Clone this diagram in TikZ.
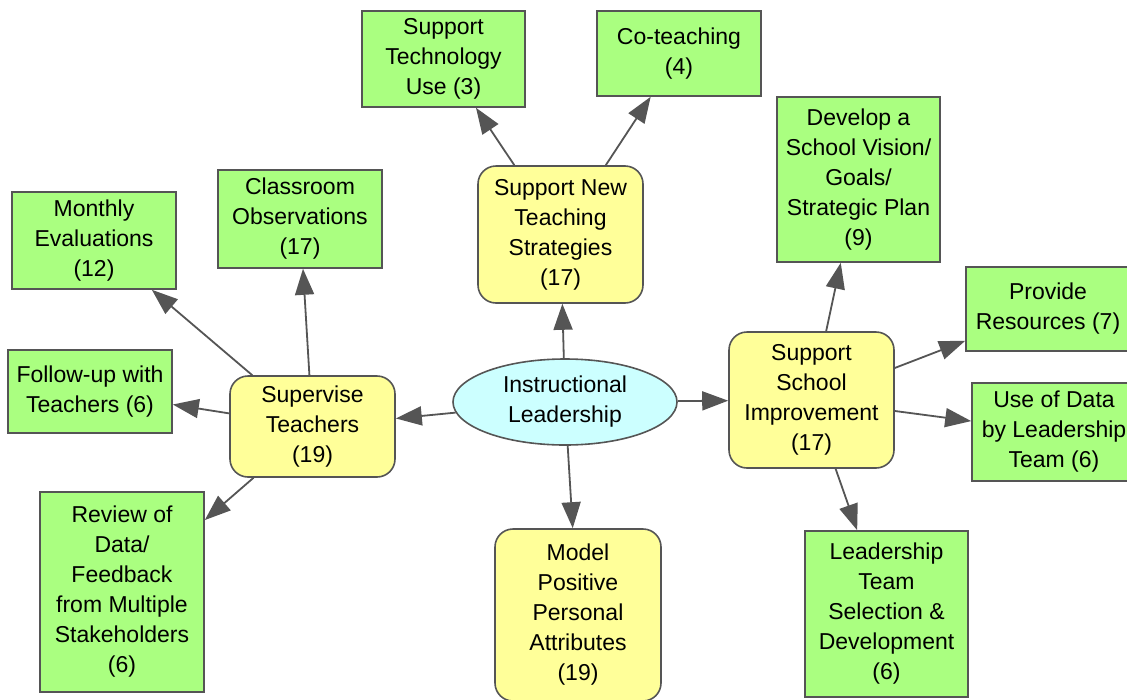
\documentclass[tikz,border=0pt]{standalone}
\usepackage{fontspec}
\setmainfont{Liberation Sans}
\usetikzlibrary{arrows.meta,shapes.geometric}
\definecolor{leafgreen}{HTML}{AAFF80}
\definecolor{midyellow}{HTML}{FFFF99}
\definecolor{rootcyan}{HTML}{CCFFFF}
\definecolor{edgegray}{HTML}{555555}
\begin{document}
\begin{tikzpicture}[x=1pt,y=-1pt,
  base/.style={draw=edgegray, line width=1.6pt, align=center, font=\fontsize{23}{30}\selectfont, inner sep=0pt},
  leaf/.style={base, rectangle, fill=leafgreen},
  mid/.style={base, rectangle, rounded corners=18pt, fill=midyellow},
  root/.style={base, ellipse, fill=rootcyan},
  link/.style={draw=edgegray, line width=1.8pt, -{Triangle[length=26pt,width=19pt]}}]
\useasboundingbox (0,0) rectangle (1127,699);
\clip (0,0) rectangle (1127,699);
\fill[white] (0,0) rectangle (1127,699);
% central node
\node[root, minimum width=224pt, minimum height=86pt] (root) at (565,402) {Instructional\\Leadership};
% middle level
\node[mid, minimum width=165pt, minimum height=137pt] (snts) at (560.5,234.5) {Support New\\Teaching\\Strategies\\(17)};
\node[mid, minimum width=165pt, minimum height=101pt] (sup) at (312.5,426.5) {Supervise\\Teachers\\(19)};
\node[mid, minimum width=165pt, minimum height=136pt] (ssi) at (811.5,400) {Support\\School\\Improvement\\(17)};
\node[mid, minimum width=166pt, minimum height=172pt] (model) at (578,615) {Model\\Positive\\Personal\\Attributes\\(19)};
% leaves
\node[leaf, minimum width=163pt, minimum height=96pt] (tech) at (443.5,59) {Support\\Technology\\Use (3)};
\node[leaf, minimum width=164pt, minimum height=85pt] (cot) at (679,53.5) {Co-teaching\\(4)};
\node[leaf, minimum width=163pt, minimum height=165pt] (vision) at (858.5,179.5) {Develop a\\School Vision/\\Goals/\\Strategic Plan\\(9)};
\node[leaf, minimum width=164pt, minimum height=84pt] (res) at (1048,309) {Provide\\Resources (7)};
\node[leaf, minimum width=164pt, minimum height=98pt] (data) at (1054,432) {Use of Data\\by Leadership\\Team (6)};
\node[leaf, minimum width=163pt, minimum height=166pt] (lts) at (886.5,614) {Leadership\\Team\\Selection \&\\Development\\(6)};
\node[leaf, minimum width=164pt, minimum height=98pt] (cls) at (300,219) {Classroom\\Observations\\(17)};
\node[leaf, minimum width=164pt, minimum height=97pt] (mon) at (94,240.5) {Monthly\\Evaluations\\(12)};
\node[leaf, minimum width=164pt, minimum height=83pt] (fol) at (90,391.5) {Follow-up with\\Teachers (6)};
\node[leaf, minimum width=164pt, minimum height=200pt] (rev) at (122,592) {Review of\\Data/\\Feedback\\from Multiple\\Stakeholders\\(6)};
% connectors
\draw[link] (root) -- (snts);
\draw[link] (root) -- (sup);
\draw[link] (root) -- (ssi);
\draw[link] (root) -- (model);
\draw[link] (sup) -- (mon);
\draw[link] (sup) -- (cls);
\draw[link] (sup) -- (fol);
\draw[link] (sup) -- (rev);
\draw[link] (snts) -- (tech);
\draw[link] (snts) -- (cot);
\draw[link] (ssi) -- (vision);
\draw[link] (ssi) -- (res);
\draw[link] (ssi) -- (data);
\draw[link] (ssi) -- (lts);
\end{tikzpicture}
\end{document}
